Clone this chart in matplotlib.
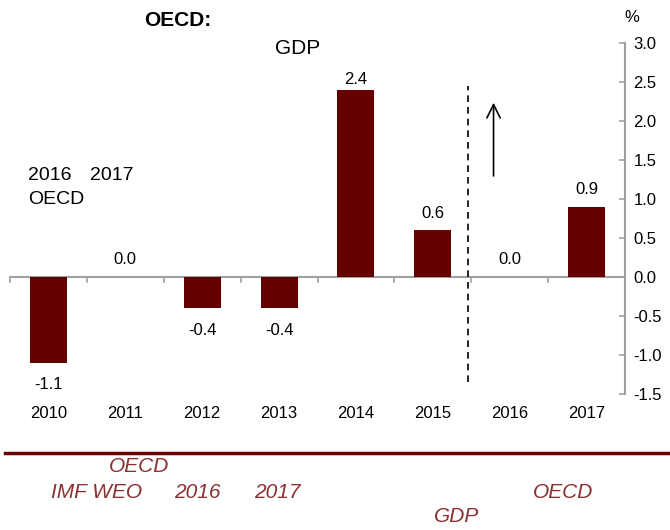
import matplotlib
matplotlib.use("Agg")
import matplotlib.pyplot as plt

plt.rcParams['font.family'] = ['Liberation Sans', 'DejaVu Sans']

years = ['2010', '2011', '2012', '2013', '2014', '2015', '2016', '2017']
gdp = [-1.1, 0.0, -0.4, -0.4, 2.4, 0.6, 0.0, 0.9]
labels = ['-1.1', '0.0', '-0.4', '-0.4', '2.4', '0.6', '0.0', '0.9']
yticks = [-1.5, -1.0, -0.5, 0.0, 0.5, 1.0, 1.5, 2.0, 2.5, 3.0]

bar_color = '#640000'
gray = '#a0a0a0'
note_color = '#8b3030'

fig = plt.figure(figsize=(6.7, 5.3), dpi=100)
ax = fig.add_axes([10/670, (530-394)/530, 615/670, 351/530])
x = list(range(len(years)))
ax.bar(x, gdp, width=0.48, color=bar_color, zorder=3)
ax.set_xlim(-0.5, len(years)-0.5)
ax.set_ylim(-1.5, 3.0)

# zero line with boundary ticks
ax.axhline(0, color=gray, lw=1.5, zorder=2)
for i in range(len(years)+1):
    ax.plot([i-0.5, i-0.5], [0, -0.06], color=gray, lw=1.2, zorder=2, clip_on=False)

for s in ['top', 'left', 'bottom']:
    ax.spines[s].set_visible(False)
ax.spines['right'].set_color(gray)
ax.spines['right'].set_linewidth(1.5)
ax.yaxis.tick_right()
ax.set_yticks(yticks)
ax.set_yticklabels([f'{v:.1f}' for v in yticks])
ax.tick_params(axis='y', direction='in', length=4, color=gray, width=1.2,
               labelsize=12, pad=6)
ax.set_xticks(x)
ax.set_xticklabels(years)
ax.tick_params(axis='x', length=0, labelsize=12, pad=9)

for xi, v, lab in zip(x, gdp, labels):
    if v >= 0:
        yy = min(v + 0.22, 2.53)
    else:
        yy = v - 0.28
    ax.text(xi, yy, lab, ha='center', va='center', fontsize=12, zorder=4)

# dashed separator and arrow
ax.plot([5.455, 5.455], [-1.35, 2.45], color='black', lw=1.2, ls=(0, (4, 3)), zorder=4)
ax.annotate('', xy=(5.79, 2.27), xytext=(5.79, 1.26),
            arrowprops=dict(arrowstyle='->', lw=1.2, color='black',
                            mutation_scale=24))

# texts
fig.text(178/670, 1-20/530, 'OECD:', ha='center', va='center', fontsize=15, fontweight='bold')
fig.text(298/670, 1-48/530, 'GDP', ha='center', va='center', fontsize=15)
fig.text(28/670, 1-176/530, '2016', ha='left', va='center', fontsize=14)
fig.text(90/670, 1-176/530, '2017', ha='left', va='center', fontsize=14)
fig.text(28/670, 1-199/530, 'OECD', ha='left', va='center', fontsize=14)
fig.text(632/670, 1-18/530, '%', ha='center', va='center', fontsize=12)

# bottom line and notes
fig.add_artist(plt.Line2D([5/670, 1], [1-453/530, 1-453/530], color='#6b0000', lw=2.5))
kw = dict(ha='center', va='center', fontsize=15, style='italic', color=note_color)
fig.text(139/670, 1-467/530, 'OECD', **kw)
fig.text(97/670, 1-492/530, 'IMF WEO', **kw)
fig.text(197/670, 1-492/530, '2016', **kw)
fig.text(277/670, 1-492/530, '2017', **kw)
fig.text(563/670, 1-492/530, 'OECD', **kw)
fig.text(457/670, 1-516/530, 'GDP', **kw)

fig.savefig('out.png', dpi=100)
